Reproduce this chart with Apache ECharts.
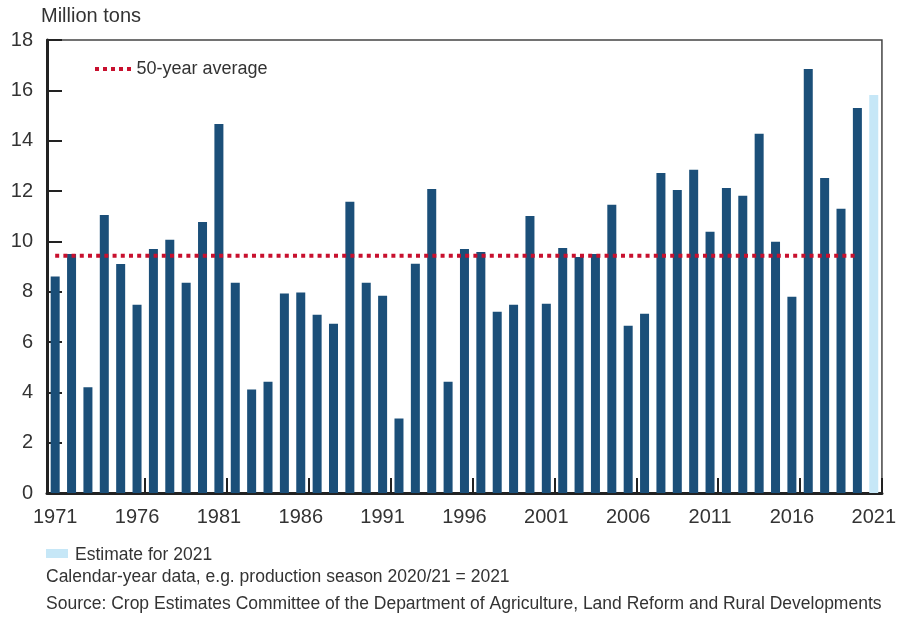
<!DOCTYPE html>
<html>
<head>
<meta charset="utf-8">
<script src="https://cdn.jsdelivr.net/npm/echarts@6/dist/echarts.min.js"></script>
<style>
  html, body { margin: 0; padding: 0; background: #fff; }
  #chart { width: 899px; height: 619px; }
</style>
</head>
<body>
<div id="chart"></div>
<script>
const years = [
  "1971", "1972", "1973", "1974", "1975", "1976", "1977", "1978", "1979", "1980",
  "1981", "1982", "1983", "1984", "1985", "1986", "1987", "1988", "1989", "1990",
  "1991", "1992", "1993", "1994", "1995", "1996", "1997", "1998", "1999", "2000",
  "2001", "2002", "2003", "2004", "2005", "2006", "2007", "2008", "2009", "2010",
  "2011", "2012", "2013", "2014", "2015", "2016", "2017", "2018", "2019", "2020",
  "2021"
];
const production = [
  8.6, 9.5, 4.2, 11.05, 9.1, 7.48, 9.7, 10.06, 8.35, 10.77,
  14.66, 8.35, 4.11, 4.42, 7.93, 7.97, 7.08, 6.73, 11.57, 8.35,
  7.84, 2.96, 9.11, 12.08, 4.42, 9.7, 9.58, 7.2, 7.48, 11.01,
  7.52, 9.74, 9.38, 9.5, 11.45, 6.65, 7.12, 12.72, 12.04, 12.84,
  10.38, 12.12, 11.81, 14.27, 9.98, 7.8, 16.85, 12.52, 11.29, 15.3,
  15.81
];
const estimateYear = "2021";
const average50 = 9.43;
const yTicks = [0, 2, 4, 6, 8, 10, 12, 14, 16, 18];

const darkBlue = "#1b4f79";
const lightBlue = "#c6e7f7";
const red = "#c8102e";
const textColor = "#333";
const font = "Liberation Sans";

// dotted legend key: five small squares
const dotsIcon = "path://M0,0h4v4h-4z M8,0h4v4h-4z M16,0h4v4h-4z M24,0h4v4h-4z M32,0h4v4h-4z";

let chartDom = document.getElementById("chart");
let myChart = echarts.init(chartDom);
let option;

const barData = production.map((v, i) => ({
  value: v,
  itemStyle: { color: years[i] === estimateYear ? lightBlue : darkBlue },
}));
const avgData = years.map((y) => (y === estimateYear ? null : average50));

option = {
  animation: false,
  textStyle: { fontFamily: font, color: textColor },
  grid: {
    left: 47,
    right: 17,
    top: 40,
    bottom: 126,
    show: true,
    borderColor: "#444",
    borderWidth: 1.5,
  },
  legend: {
    data: [{ name: "50-year average", icon: dotsIcon }],
    left: 90,
    top: 55,
    itemWidth: 37,
    itemHeight: 4,
    itemGap: 9,
    itemStyle: { color: red },
    textStyle: { fontFamily: font, fontSize: 18, color: textColor },
  },
  xAxis: {
    type: "category",
    data: years,
    boundaryGap: true,
    axisLine: { lineStyle: { color: "#222", width: 3 } },
    axisTick: {
      show: true,
      inside: true,
      length: 15,
      interval: function (index) {
        return index % 5 === 1 && index > 1 && index < 50;
      },
      lineStyle: { color: "#222", width: 2 },
    },
    axisLabel: {
      interval: 4,
      fontSize: 20,
      color: textColor,
      margin: 14,
      fontFamily: font,
    },
  },
  yAxis: {
    type: "value",
    min: yTicks[0],
    max: yTicks[yTicks.length - 1],
    interval: 2,
    name: "Million tons",
    nameLocation: "end",
    nameGap: 14,
    nameTextStyle: { fontSize: 20, color: textColor, align: "left", padding: [0, 0, 0, -6] },
    splitLine: { show: false },
    axisLine: { show: true, lineStyle: { color: "#222", width: 3 } },
    axisTick: { show: true, inside: true, length: 15, lineStyle: { color: "#222", width: 2 } },
    axisLabel: { fontSize: 20, color: textColor, margin: 14, fontFamily: font },
  },
  series: [
    {
      name: "Production",
      type: "bar",
      data: barData,
      barWidth: 9,
    },
    {
      name: "50-year average",
      type: "line",
      data: avgData,
      symbol: "none",
      z: 5,
      lineStyle: { color: red, width: 4, type: [4, 4.2] },
      itemStyle: { color: red },
    },
  ],
  graphic: [
    { type: "rect", x: 46, y: 549, shape: { width: 22, height: 9 }, style: { fill: lightBlue } },
    { type: "text", x: 75, y: 555, style: { text: "Estimate for 2021", font: "17.5px " + font, fill: textColor, verticalAlign: "middle" } },
    { type: "text", x: 46, y: 577, style: { text: "Calendar-year data, e.g. production season 2020/21 = 2021", font: "17.5px " + font, fill: textColor, verticalAlign: "middle" } },
    { type: "text", x: 46, y: 604, style: { text: "Source: Crop Estimates Committee of the Department of Agriculture, Land Reform and Rural Developments", font: "17.5px " + font, fill: textColor, verticalAlign: "middle" } },
  ],
};

option && myChart.setOption(option);
</script>
</body>
</html>
